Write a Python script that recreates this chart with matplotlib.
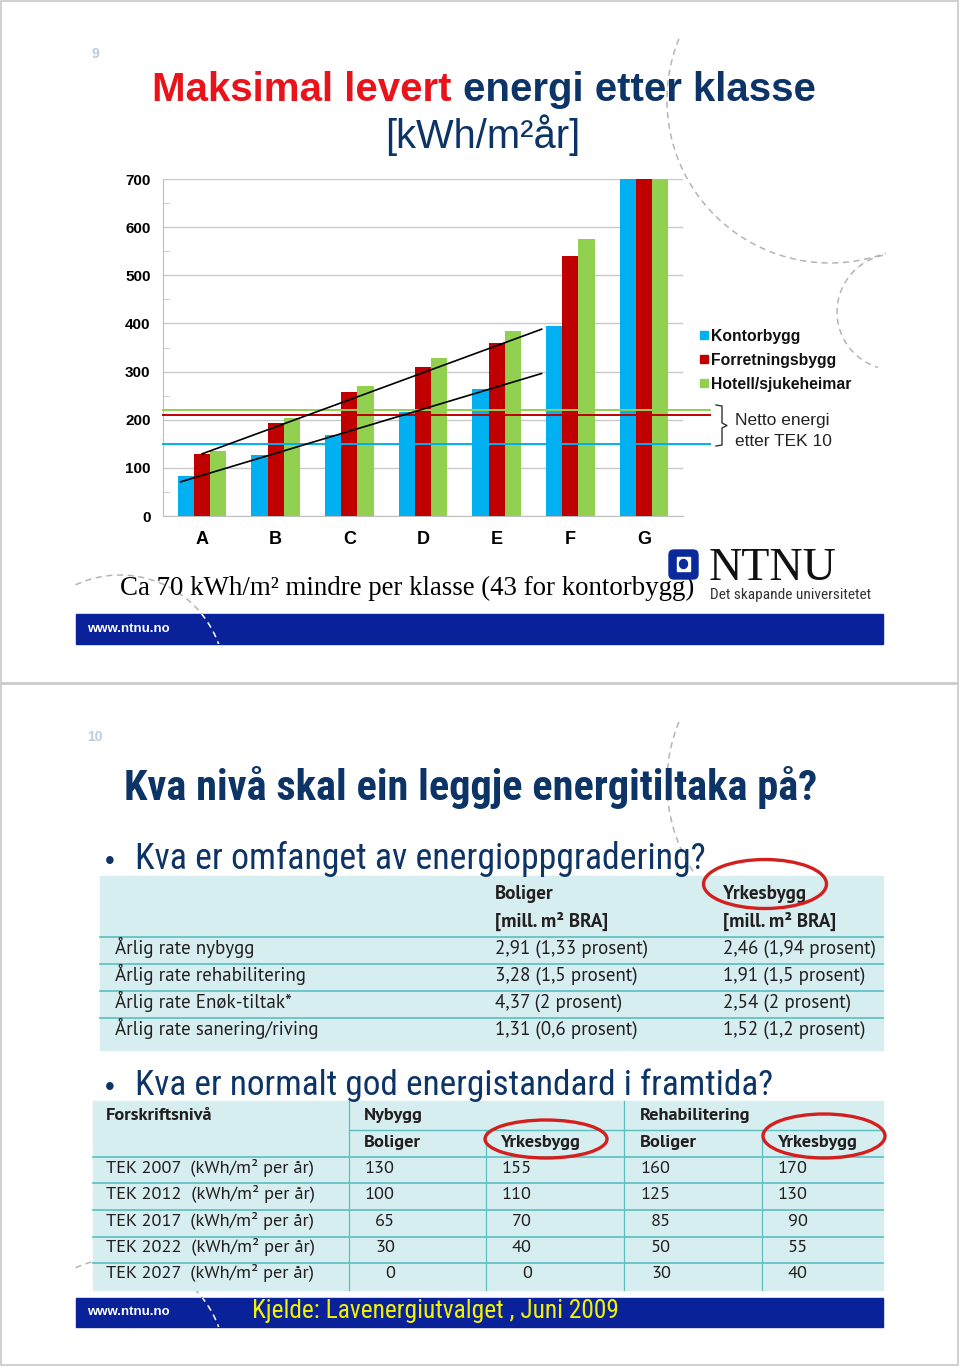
import matplotlib
matplotlib.use("Agg")
import matplotlib.pyplot as plt
import matplotlib.patches as mpatches
from matplotlib import font_manager
import numpy as np

W, H = 960, 1367

# ---- chart data (slide 9) ----
classes = ["A", "B", "C", "D", "E", "F", "G"]
kontor = [84, 126, 168, 215, 263, 395, 760]        # G is cut off at 700
forretning = [129, 194, 258, 309, 360, 540, 780]
hotell = [136, 203, 270, 328, 384, 575, 800]
series_names = ["Kontorbygg", "Forretningsbygg", "Hotell/sjukeheimar"]
series_colors = ["#00b0f0", "#c00000", "#92d050"]
tek10_netto = [150, 210, 220]
yticks = [0, 100, 200, 300, 400, 500, 600, 700]

# hand drawn trend lines (x in class units, y in kWh/m2)
trend_upper_x = [0.0, 4.61]
trend_upper_y = [129, 388]
trend_lower_x = [-0.29, 4.61]
trend_lower_y = [71, 296]

# ---- table 1 (slide 10) ----
rate_rows = ["Årlig rate nybygg", "Årlig rate rehabilitering",
             "Årlig rate Enøk-tiltak*", "Årlig rate sanering/riving"]
rate_bolig = ["2,91 (1,33 prosent)", "3,28 (1,5 prosent)",
              "4,37 (2 prosent)", "1,31 (0,6 prosent)"]
rate_yrkes = ["2,46 (1,94 prosent)", "1,91 (1,5 prosent)",
              "2,54 (2 prosent)", "1,52 (1,2 prosent)"]

# ---- table 2 (slide 10) ----
tek_rows = ["TEK 2007", "TEK 2012", "TEK 2017", "TEK 2022", "TEK 2027"]
nybygg_bolig = [130, 100, 65, 30, 0]
nybygg_yrkes = [155, 110, 70, 40, 0]
rehab_bolig = [160, 125, 85, 50, 30]
rehab_yrkes = [170, 130, 90, 55, 40]

names = {f.name for f in font_manager.fontManager.ttflist}


def pick(*cands):
    for c in cands:
        if c in names:
            return c
    return "Liberation Sans"


NARROW = pick("Roboto Condensed", "Archivo Narrow", "Liberation Sans")
TABFONT = pick("PT Sans", "PT Sans Narrow", "Liberation Sans")
SANS = "Liberation Sans"
SERIF = "Liberation Serif"

NAVY = "#0d3466"
BARBLUE = "#0a2299"
GRAY = "#b4b4b4"
TABBG = "#d7eef0"
TABLINE = "#5bbfc0"
TXT = "#231f20"
RED = "#d41f1f"

fig = plt.figure(figsize=(W / 100, H / 100), dpi=100)
bg = fig.add_axes([0, 0, 1, 1])
bg.set_xlim(0, W)
bg.set_ylim(H, 0)
bg.axis("off")
rend = fig.canvas.get_renderer()


def fit(s, x, y, width, size=12, **kw):
    t = bg.text(x, y, s, fontsize=size, **kw)
    bb = t.get_window_extent(rend)
    t.set_fontsize(size * width / bb.width)
    return t


def arc(cx, cy, r, t0, t1, color=GRAY, z=1):
    t = np.radians(np.linspace(t0, t1, 150))
    ln, = bg.plot(cx + r * np.cos(t), cy + r * np.sin(t), color=color, lw=1.1,
                  dashes=(4, 3), zorder=z)
    return ln


# page frames
bg.add_patch(mpatches.Rectangle((1, 1), 957, 682, fill=False, ec="#c8c8c8", lw=1.2))
bg.add_patch(mpatches.Rectangle((1, 684), 957, 681, fill=False, ec="#c8c8c8", lw=1.2))

# ================= slide 9 =================
arc(830, 100, 163, 202, 70)
arc(895, 312, 58, 258, 107)
arc(120, 680, 105, -115, -20)

bg.text(95, 58, "9", fontsize=10, color="#b9cde0", fontweight="bold",
        family=SANS, ha="center")

full = bg.text(0, 0, "Maksimal levert energi etter klasse", fontsize=29,
               fontweight="bold", family=SANS)
tsize = 29 * 663 / full.get_window_extent(rend).width
full.remove()
t1 = bg.text(152, 101, "Maksimal levert ", fontsize=tsize, fontweight="bold",
             family=SANS, color="#e8131b")
x1 = t1.get_window_extent(rend).x1
bg.text(x1, 101, "energi etter klasse", fontsize=tsize, fontweight="bold",
        family=SANS, color=NAVY)
fit("[kWh/m²år]", 385, 148, 195, 29, family=SANS, color=NAVY)

ax = fig.add_axes([163 / W, 1 - 516 / H, 520 / W, 337 / H])
ax.set_facecolor("none")
x = np.arange(len(classes))
w = 0.22
for i, (vals, c) in enumerate(zip([kontor, forretning, hotell], series_colors)):
    ax.bar(x + (i - 1) * w, vals, w, color=c, zorder=3)
xl = (-0.53, 6.53)
for v, c in zip(tek10_netto, series_colors):
    ax.plot([xl[0], 6.89], [v, v], color=c, lw=1.4, clip_on=False, zorder=4)
ax.plot(trend_upper_x, trend_upper_y, color="black", lw=1.2, zorder=5)
ax.plot(trend_lower_x, trend_lower_y, color="black", lw=1.2, zorder=5)
ax.set_xlim(*xl)
ax.set_ylim(0, 700)
ax.set_yticks(yticks)
ax.set_yticklabels([str(v) for v in yticks], fontweight="bold", family=SANS)
ax.set_yticks(range(50, 700, 100), minor=True)
ax.set_xticks(x)
ax.set_xticklabels(classes, fontweight="bold", family=SANS)
ax.tick_params(axis="y", which="major", length=0, pad=9, labelsize=11)
ax.tick_params(axis="y", which="minor", direction="in", length=4, color="#bfbfbf")
ax.tick_params(axis="x", length=0, pad=11, labelsize=13)
ax.yaxis.grid(True, color="#c8c8c8", lw=1)
ax.set_axisbelow(True)
for s in ["top", "right"]:
    ax.spines[s].set_visible(False)
for s in ["left", "bottom"]:
    ax.spines[s].set_color("#bfbfbf")

# legend
for k, (name, c) in enumerate(zip(series_names, series_colors)):
    yc = 335 + 24 * k
    bg.add_patch(mpatches.Rectangle((700, yc - 4), 8, 8, color=c, zorder=3))
    bg.text(711, yc + 5.5, name, fontsize=11.3, fontweight="bold", family=SANS,
            color="#111111")
bg.plot([716, 722, 722, 727, 722, 722, 716], [405, 406, 423, 425.5, 428, 445, 446],
        color="#333333", lw=1)
bg.text(735, 425, "Netto energi", fontsize=12.5, family=SANS, color="#222222")
bg.text(735, 446, "etter TEK 10", fontsize=12.5, family=SANS, color="#222222")

fit("Ca 70 kWh/m² mindre per klasse (43 for kontorbygg)", 120, 595, 575, 19,
    family=SERIF, color="black")

# NTNU logo
bg.add_patch(mpatches.FancyBboxPatch((669, 550), 29, 29, boxstyle="round,pad=0,rounding_size=5",
                                     color="#0a2a9c", zorder=3))
bg.add_patch(mpatches.Rectangle((677, 557), 13, 14, color="white", zorder=4))
bg.add_patch(mpatches.Ellipse((683.5, 564), 8, 9, color="#0a2a9c", zorder=5))
fit("NTNU", 709, 580, 128, 33, family=SERIF, color="#111111")
fit("Det skapande universitetet", 710, 599, 162, 9.5, family=NARROW, color="#333333")

bar1 = mpatches.Rectangle((76, 614), 807, 30, color=BARBLUE, zorder=2)
bg.add_patch(bar1)
wl = arc(120, 680, 105, -115, -20, color="white", z=3)
wl.set_clip_path(bar1)
fit("www.ntnu.no", 87, 632, 83, 9, family=SANS, fontweight="bold", color="white", zorder=4)

# ================= slide 10 =================
arc(830, 783, 163, 202, 146)
arc(120, 1363, 105, -115, -20)

bg.text(95, 741, "10", fontsize=10, color="#b9cde0", fontweight="bold",
        family=SANS, ha="center")
fit("Kva nivå skal ein leggje energitiltaka på?", 124, 800, 694, 26,
    family=NARROW, fontweight="bold", color=NAVY)
bg.text(110, 869, "•", fontsize=20, family=SANS, color=NAVY, ha="center")
fit("Kva er omfanget av energioppgradering?", 135, 869, 570, 22,
    family=NARROW, color=NAVY)
bg.text(110, 1095, "•", fontsize=20, family=SANS, color=NAVY, ha="center")
fit("Kva er normalt god energistandard i framtida?", 135, 1095, 638, 22,
    family=NARROW, color=NAVY)

# table 1
bg.add_patch(mpatches.Rectangle((100, 876), 783, 174, color=TABBG, zorder=2))
for yl in [937, 964, 991, 1018]:
    bg.plot([100, 883], [yl, yl], color=TABLINE, lw=1.2, zorder=3)
ref = fit(rate_rows[1], 115, 0, 192, 14, family=TABFONT)
s1 = ref.get_fontsize()
ref.remove()
for xc, head in [(495, "Boliger"), (723, "Yrkesbygg")]:
    bg.text(xc, 899, head, fontsize=s1, family=TABFONT, fontweight="bold", color=TXT, zorder=4)
    bg.text(xc, 927, "[mill. m² BRA]", fontsize=s1, family=TABFONT, fontweight="bold",
            color=TXT, zorder=4)
for k in range(len(rate_rows)):
    yb = 954 + 27 * k
    bg.text(115, yb, rate_rows[k], fontsize=s1, family=TABFONT, color=TXT, zorder=4)
    bg.text(495, yb, rate_bolig[k], fontsize=s1, family=TABFONT, color=TXT, zorder=4)
    bg.text(723, yb, rate_yrkes[k], fontsize=s1, family=TABFONT, color=TXT, zorder=4)
bg.add_patch(mpatches.Ellipse((765, 884), 123, 49, fill=False, ec=RED, lw=2.4, zorder=5))

# table 2
bg.add_patch(mpatches.Rectangle((93, 1101), 790, 189, color=TABBG, zorder=2))
bg.plot([349, 883], [1130, 1130], color=TABLINE, lw=1, zorder=3)
for yl in [1157, 1183, 1210, 1237, 1263]:
    bg.plot([93, 883], [yl, yl], color=TABLINE, lw=1.2, zorder=3)
for xv, y0 in [(349, 1101), (486, 1130), (624, 1101), (762, 1130)]:
    bg.plot([xv, xv], [y0, 1290], color=TABLINE, lw=0.9, zorder=3)
ref = fit("TEK 2007  (kWh/m² per år)", 106, 0, 210, 14, family=TABFONT)
s2 = ref.get_fontsize()
ref.remove()
for xc, yb, head in [(106, 1120, "Forskriftsnivå"), (364, 1120, "Nybygg"),
                     (640, 1120, "Rehabilitering"), (364, 1147, "Boliger"),
                     (501, 1147, "Yrkesbygg"), (640, 1147, "Boliger"),
                     (778, 1147, "Yrkesbygg")]:
    bg.text(xc, yb, head, fontsize=s2, family=TABFONT, fontweight="bold", color=TXT, zorder=4)
cols = [(395, nybygg_bolig), (532, nybygg_yrkes), (671, rehab_bolig), (808, rehab_yrkes)]
for k in range(len(tek_rows)):
    yb = 1173 + 26.3 * k
    bg.text(106, yb, tek_rows[k] + "  (kWh/m² per år)", fontsize=s2, family=TABFONT,
            color=TXT, zorder=4)
    for xr, vals in cols:
        bg.text(xr, yb, str(vals[k]), fontsize=s2, family=TABFONT, color=TXT,
                ha="right", zorder=4)
bg.add_patch(mpatches.Ellipse((546, 1139), 122, 38, fill=False, ec=RED, lw=2.4, zorder=5))
bg.add_patch(mpatches.Ellipse((824, 1136), 122, 44, fill=False, ec=RED, lw=2.4, zorder=5))

bar2 = mpatches.Rectangle((76, 1298), 807, 29, color=BARBLUE, zorder=2)
bg.add_patch(bar2)
wl = arc(120, 1363, 105, -115, -20, color="white", z=3)
wl.set_clip_path(bar2)
fit("www.ntnu.no", 87, 1315, 83, 9, family=SANS, fontweight="bold", color="white", zorder=4)
fit("Kjelde: Lavenergiutvalget , Juni 2009", 252, 1318, 367, 17, family=NARROW,
    color="#f2f200", zorder=4)

fig.savefig("out.png", dpi=100)
